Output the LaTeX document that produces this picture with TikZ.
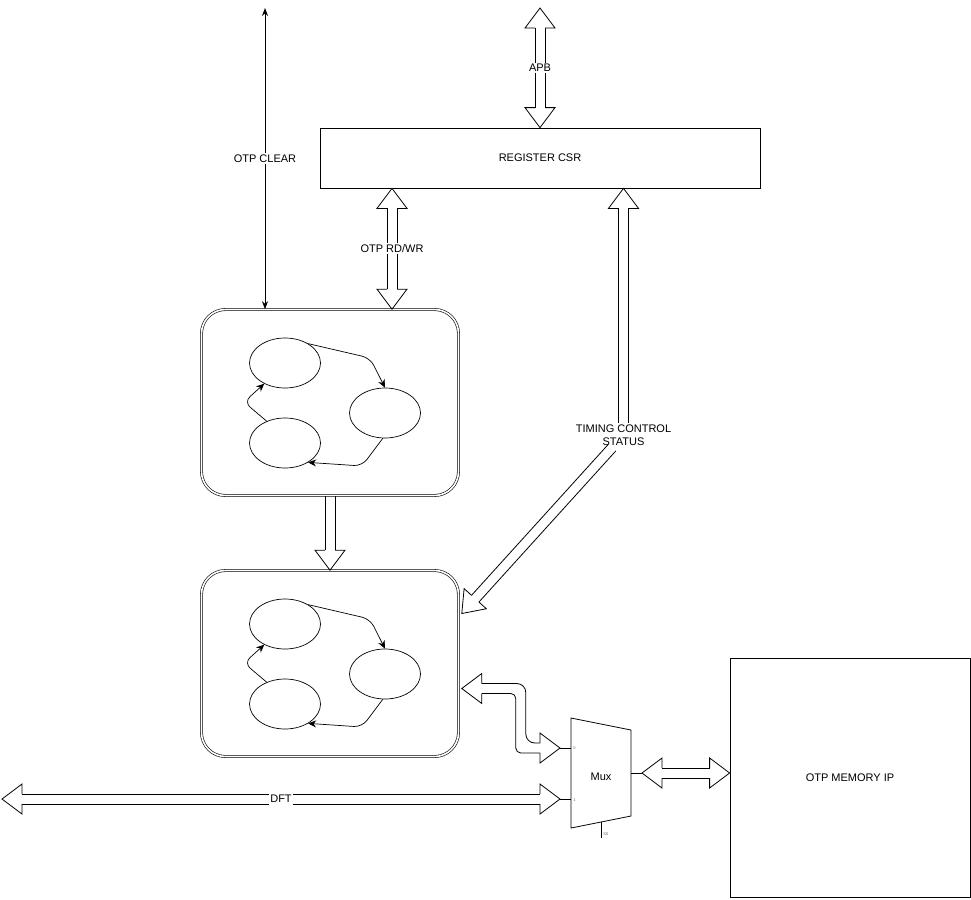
\documentclass[tikz,border=0pt]{standalone}
\usepackage{fontspec}
\setmainfont{Liberation Sans}
\usetikzlibrary{arrows.meta}
\usetikzlibrary{shapes.geometric}
\usetikzlibrary{calc}

\newcommand{\flexhead}[3]{%
  \coordinate (#1) at ($(#2)!20pt!(#3)$);
  \draw[fill=white, line join=miter] ($(#1)!5pt!90:(#2)$) -- ($(#1)!15pt!90:(#2)$) -- (#2)
    -- ($(#1)!15pt!-90:(#2)$) -- ($(#1)!5pt!-90:(#2)$);}
\newcommand{\flexline}[2]{%
  \draw ($(#1)!5pt!90:(#2)$) -- ($(#2)!5pt!-90:(#1)$);
  \draw ($(#1)!5pt!-90:(#2)$) -- ($(#2)!5pt!90:(#1)$);}

\tikzset{
  box/.style={draw, line width=0.8pt, inner sep=0pt},
  fsmbox/.style={draw, double=white, double distance=1.6pt, line width=0.6pt, rounded corners=24pt, minimum width=257pt, minimum height=186pt},
  state/.style={draw, ellipse, line width=0.7pt, minimum width=71pt, minimum height=50pt, inner sep=0pt},
  stateedge/.style={line width=0.7pt, rounded corners=8pt, -{Stealth[length=8pt,width=7pt]}},
  lbl/.style={fill=white, inner sep=1pt, align=center},
  pin/.style={font=\fontsize{4}{5}\selectfont, text=black!60, inner sep=0pt}
}

\begin{document}
\begin{tikzpicture}[x=1pt, y=-1pt, line width=0.8pt, font=\fontsize{11}{13}\selectfont]
    \useasboundingbox (0,0) rectangle (971,899);
    \node[box, minimum width=440pt, minimum height=60pt] (csr) at (540,158) {REGISTER CSR};
    \node[box, minimum width=240pt, minimum height=239pt] (otp) at (850,777.5) {OTP MEMORY IP};
    \node[fsmbox] (fsmA) at (330,402.5) {};
    \node[fsmbox] (fsmB) at (330,663.5) {};

    \node[state] (a1) at (285,363) {};
    \node[state] (a2) at (385,413) {};
    \node[state] (a3) at (285,443) {};
    \draw[stateedge] (a1.40) -- (370,358) -- (a2.north);
    \draw[stateedge] (a2.-95) -- (362,466) -- (a3.-40);
    \draw[stateedge] (a3.130) -- (244,402) -- (a1.-135);

    \node[state] (b1) at (285,624) {};
    \node[state] (b2) at (385,674) {};
    \node[state] (b3) at (285,704) {};
    \draw[stateedge] (b1.40) -- (370,619) -- (b2.north);
    \draw[stateedge] (b2.-95) -- (362,727) -- (b3.-40);
    \draw[stateedge] (b3.130) -- (244,663) -- (b1.-135);

    \draw (571,718) -- (631,730) -- (631,816) -- (571,828) -- cycle;
    \node (mux) at (601,777) {Mux};
    \coordinate (mux0) at (560,748);
    \coordinate (mux1) at (560,799);
    \coordinate (muxout) at (642,773);
    \coordinate (muxsel) at (601,838);
    \draw (mux0) -- (571,748);
    \draw (mux1) -- (571,799);
    \draw (631,773) -- (muxout);
    \draw (601,822) -- (muxsel);
    \node[pin, anchor=west] at (573,748) {0};
    \node[pin, anchor=west] at (573,800) {1};
    \node[pin, anchor=west] at (603,834) {S0};

    \coordinate (clr) at (265,8);
    \coordinate (clrB) at (clr |- fsmA.north);
    \node[lbl] (clrL) at ($(clr)!0.5!(clrB)$) {OTP CLEAR};
    \draw[-{Stealth[length=8pt,width=6pt]}] (clrL.north) -- (clr);
    \draw[-{Stealth[length=8pt,width=6pt]}] (clrL.south) -- (clrB);

    \coordinate (apb) at (540,8);
    \flexhead{apbH1}{apb}{csr.north}
    \flexhead{apbH2}{csr.north}{apb}
    \node[lbl] (apbL) at ($(apbH1)!0.5!(apbH2)$) {APB};
    \flexline{apbH1}{apbL.north}
    \flexline{apbL.south}{apbH2}

    \coordinate (rw) at (392,0);
    \coordinate (rwT) at (rw |- csr.south);
    \coordinate (rwB) at (rw |- fsmA.north);
    \flexhead{rwH1}{rwT}{rwB}
    \flexhead{rwH2}{rwB}{rwT}
    \node[lbl] (rwL) at ($(rwH1)!0.5!(rwH2)$) {OTP RD/WR};
    \flexline{rwH1}{rwL.north}
    \flexline{rwL.south}{rwH2}

    \coordinate (tm) at (623.5,0);
    \coordinate (tmT) at (tm |- csr.south);
    \coordinate (tmbend) at (623.5,435);
    \coordinate (tmB) at ($(fsmB.east)+(3,-50)$);
    \flexhead{tmH1}{tmT}{tmbend}
    \flexhead{tmH2}{tmB}{tmbend}
    \node[lbl] (tmL) at (tmbend) {TIMING CONTROL\\STATUS};
    \flexline{tmH1}{tmH1 |- tmL.north}
    \flexline{$(tmbend)!17pt!(tmH2)$}{tmH2}

    \flexhead{ffH}{fsmB.north}{fsmA.south}
    \flexline{fsmA.south}{ffH}

    \coordinate (ioL) at ($(fsmB.east)+(3,25)$);
    \coordinate (ioC1) at ($(ioL)+(59,0)$);
    \coordinate (ioC2) at (ioC1 |- mux0);
    \flexhead{ioH1}{ioL}{ioC1}
    \flexhead{ioH2}{mux0}{ioC2}
    \draw[rounded corners=9pt] ($(ioH1)+(0,-5)$) -- ($(ioC1)+(5,-5)$) -- ($(ioC2)+(5,-5)$) -- ($(ioH2)+(0,-5)$);
    \draw[rounded corners=5pt] ($(ioH1)+(0,5)$) -- ($(ioC1)+(-5,5)$) -- ($(ioC2)+(-5,5)$) -- ($(ioH2)+(0,5)$);

    \coordinate (dft) at (2,799);
    \flexhead{dftH1}{dft}{mux1}
    \flexhead{dftH2}{mux1}{dft}
    \node[lbl] (dftL) at ($(dftH1)!0.5!(dftH2)$) {DFT};
    \flexline{dftH1}{dftL.west}
    \flexline{dftL.east}{dftH2}

    \coordinate (otpin) at (otp.west |- muxout);
    \flexhead{moH1}{muxout}{otpin}
    \flexhead{moH2}{otpin}{muxout}
    \flexline{moH1}{moH2}
\end{tikzpicture}
\end{document}
